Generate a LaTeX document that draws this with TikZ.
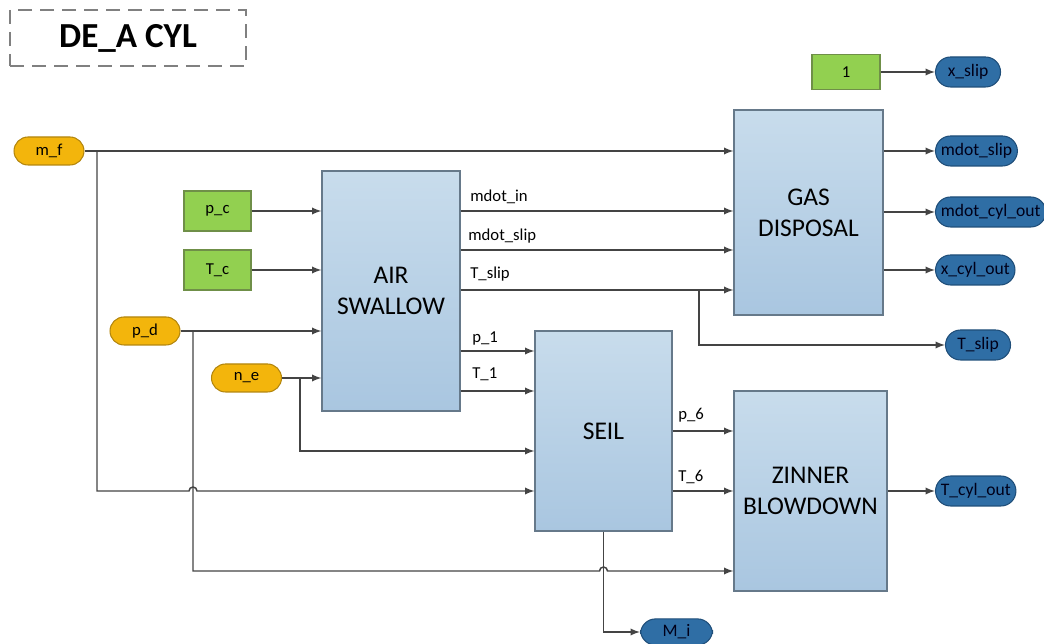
\documentclass[tikz,border=0pt]{standalone}
\usepackage{fontspec}
\setmainfont{Carlito}
\usetikzlibrary{arrows}
\usetikzlibrary{calc}
\usetikzlibrary{positioning}

\definecolor{blocktop}{HTML}{C8DCEC}
\definecolor{blockbot}{HTML}{A9C6E0}
\definecolor{blockline}{HTML}{66798A}
\definecolor{inorange}{HTML}{F3B50C}
\definecolor{inorangeline}{HTML}{B3860E}
\definecolor{constgreen}{HTML}{92D050}
\definecolor{constline}{HTML}{6F8F48}
\definecolor{outblue}{HTML}{2F6EA5}
\definecolor{outblueline}{HTML}{1F4E79}
\definecolor{wire}{HTML}{444444}

\begin{document}
\begin{tikzpicture}[x=0.02cm, y=-0.02cm,
    block/.style={draw=blockline, line width=0.6pt, top color=blocktop, bottom color=blockbot, align=center, font=\fontsize{14.5}{17.5}\selectfont},
    const/.style={draw=constline, line width=0.6pt, fill=constgreen, minimum width=1.34cm, minimum height=0.8cm, font=\fontsize{9.5}{11}\selectfont},
    inport/.style={draw=inorangeline, line width=0.6pt, fill=inorange, rounded corners=0.28cm, minimum width=1.4cm, minimum height=0.56cm, font=\fontsize{9.5}{11}\selectfont},
    outport/.style={draw=outblueline, line width=0.6pt, fill=outblue, rounded corners=0.3cm, minimum width=1.3cm, minimum height=0.6cm, inner xsep=3pt, text=black!90!blue, font=\fontsize{10}{12}\selectfont, anchor=west},
    lbl/.style={anchor=west, inner sep=0pt, font=\fontsize{9.5}{11}\selectfont},
    line/.style={draw=wire, line width=0.85pt},
    flow/.style={line, -latex}
  ]
    \useasboundingbox (0,0) rectangle (1044,644);

    \node[draw=gray, line width=0.7pt, dash pattern=on 0.28cm off 0.16cm, minimum width=4.72cm, minimum height=1.12cm, font=\bfseries\fontsize{20}{24}\selectfont] (title) at (128,38) {DE\_A CYL};

    \node[block, minimum width=2.76cm, minimum height=4.8cm] (air) at (391,291) {AIR\\SWALLOW};
    \node[block, minimum width=2.98cm, minimum height=4.1cm] (gas) at (808.5,212.5) {GAS\\DISPOSAL};
    \node[block, minimum width=2.74cm, minimum height=4cm] (seil) at (603.5,431) {SEIL};
    \node[block, minimum width=3.06cm, minimum height=4cm] (zin) at (810.5,491) {ZINNER\\BLOWDOWN};

    \node[inport] (mf) at (49,151) {m\_f};
    \node[const] (pc) at (217.5,211) {p\_c};
    \node[const] (Tc) at (217.5,270) {T\_c};
    \node[inport] (pd) at (145,331) {p\_d};
    \node[inport] (ne) at (246.5,378) {n\_e};
    \node[const, minimum width=1.36cm, minimum height=0.7cm] (one) at (846,72) {1};

    \node[outport] (xslip) at (935,72) {x\_slip};
    \node[outport] (mslip) at (935,151) {mdot\_slip};
    \node[outport] (mcyl) at (935,212) {mdot\_cyl\_out};
    \node[outport] (xcyl) at (935,270) {x\_cyl\_out};
    \node[outport] (tslip) at (945,345) {T\_slip};
    \node[outport] (tcyl) at (935,491) {T\_cyl\_out};
    \node[outport, minimum width=1.44cm, minimum height=0.52cm] (mi) at (640,632) {M\_i};

    \coordinate (yms) at (0,250);
    \coordinate (yts) at (0,290);
    \coordinate (yp1) at (0,351);
    \coordinate (yt1) at (0,391);
    \coordinate (yne) at (0,451);
    \coordinate (yp6) at (0,431);
    \coordinate (ymf) at (0,491);
    \coordinate (ypd) at (0,571);
    \coordinate (jmf) at (97,151);
    \coordinate (jpd) at (193,331);
    \coordinate (jne) at (300,378);
    \coordinate (jts) at (699,290);

    \draw[flow] (one) -- (xslip);
    \draw[flow] (mf) -- (mf -| gas.west);
    \draw[flow] (pc) -- (pc -| air.west);
    \draw[flow] (Tc) -- (Tc -| air.west);
    \draw[flow] (pd) -- (pd -| air.west);
    \draw[flow] (ne) -- (ne -| air.west);

    \draw[flow] (air.east |- pc) -- (gas.west |- pc);
    \draw[flow] (air.east |- yms) -- (gas.west |- yms);
    \draw[flow] (air.east |- yts) -- (gas.west |- yts);
    \draw[flow] (jts) |- (tslip);
    \draw[flow] (air.east |- yp1) -- (seil.west |- yp1);
    \draw[flow] (air.east |- yt1) -- (seil.west |- yt1);
    \node[lbl] at (470,197) {mdot\_in};
    \node[lbl] at (468,236) {mdot\_slip};
    \node[lbl] at (470,274) {T\_slip};
    \node[lbl] at (472,338) {p\_1};
    \node[lbl] at (472,374) {T\_1};

    \draw[flow] (jne) |- (seil.west |- yne);
    \draw[flow] (jmf) -- (jmf |- ymf) -- (189,491) arc[start angle=180, end angle=0, radius=0.08cm] -- (seil.west |- ymf);
    \draw[flow] (jpd) -- (jpd |- ypd) -- (599.5,571) arc[start angle=180, end angle=0, radius=0.08cm] -- (zin.west |- ypd);

    \draw[flow] (seil.east |- yp6) -- (zin.west |- yp6);
    \draw[flow] (seil.east |- ymf) -- (zin.west |- ymf);
    \node[lbl] at (678,415) {p\_6};
    \node[lbl] at (678,477) {T\_6};
    \draw[flow] (seil.south) |- (mi);

    \draw[flow] (gas.east |- mslip) -- (mslip);
    \draw[flow] (gas.east |- mcyl) -- (mcyl);
    \draw[flow] (gas.east |- xcyl) -- (xcyl);
    \draw[flow] (zin) -- (tcyl);
  \end{tikzpicture}
\end{document}
